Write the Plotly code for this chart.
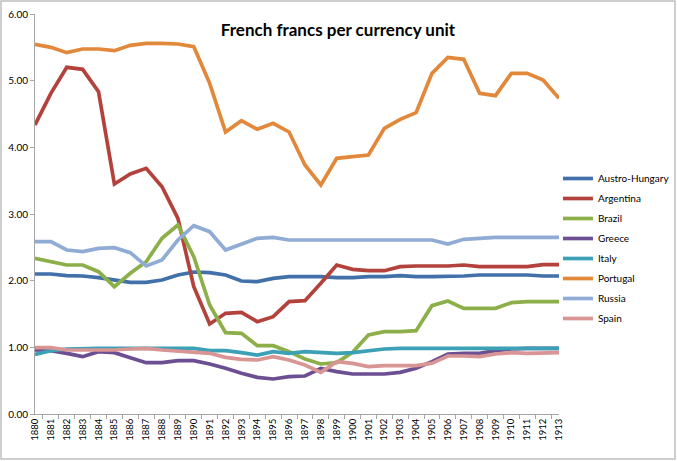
import plotly.graph_objects as go

years = [str(y) for y in range(1880, 1914)]

austro_hungary = [2.10, 2.10, 2.075, 2.07, 2.045, 2.01, 1.975, 1.975, 2.01, 2.085, 2.13, 2.12, 2.085,
                  1.995, 1.985, 2.035, 2.06, 2.06, 2.06, 2.045, 2.045, 2.06, 2.06, 2.075, 2.06, 2.06,
                  2.06, 2.07, 2.085, 2.085, 2.085, 2.085, 2.07, 2.07]
argentina = [4.335, 4.81, 5.20, 5.17, 4.835, 3.45, 3.60, 3.685, 3.41, 2.935, 1.91, 1.35, 1.51,
             1.525, 1.385, 1.46, 1.685, 1.70, 1.96, 2.235, 2.17, 2.15, 2.15, 2.21, 2.22, 2.22,
             2.22, 2.235, 2.21, 2.21, 2.21, 2.21, 2.24, 2.24]
brazil = [2.335, 2.285, 2.235, 2.235, 2.135, 1.91, 2.11, 2.285, 2.635, 2.835, 2.36, 1.635, 1.22,
          1.21, 1.025, 1.025, 0.935, 0.825, 0.75, 0.77, 0.925, 1.185, 1.235, 1.235, 1.25, 1.625,
          1.695, 1.585, 1.585, 1.585, 1.67, 1.685, 1.685, 1.685]
greece = [0.96, 0.95, 0.91, 0.86, 0.935, 0.92, 0.845, 0.77, 0.77, 0.80, 0.80, 0.75, 0.685,
          0.61, 0.55, 0.525, 0.56, 0.57, 0.685, 0.635, 0.60, 0.60, 0.60, 0.625, 0.685, 0.785,
          0.90, 0.91, 0.91, 0.95, 0.975, 0.985, 0.985, 0.985]
italy = [0.895, 0.95, 0.975, 0.985, 0.985, 0.985, 0.985, 0.985, 0.985, 0.985, 0.985, 0.95, 0.95,
         0.92, 0.885, 0.935, 0.91, 0.935, 0.92, 0.91, 0.92, 0.95, 0.975, 0.985, 0.985, 0.985,
         0.985, 0.985, 0.985, 0.985, 0.985, 0.985, 0.985, 0.985]
portugal = [5.545, 5.50, 5.42, 5.475, 5.475, 5.45, 5.53, 5.56, 5.56, 5.55, 5.51, 4.96, 4.23,
            4.40, 4.27, 4.36, 4.23, 3.735, 3.435, 3.835, 3.86, 3.885, 4.285, 4.42, 4.52, 5.11,
            5.35, 5.32, 4.81, 4.775, 5.11, 5.11, 5.01, 4.735]
russia = [2.585, 2.585, 2.46, 2.435, 2.485, 2.495, 2.42, 2.22, 2.31, 2.61, 2.825, 2.735, 2.46,
          2.55, 2.635, 2.65, 2.61, 2.61, 2.61, 2.61, 2.61, 2.61, 2.61, 2.61, 2.61, 2.61,
          2.55, 2.62, 2.635, 2.65, 2.65, 2.65, 2.65, 2.65]
spain = [0.995, 0.995, 0.96, 0.96, 0.96, 0.96, 0.975, 0.985, 0.96, 0.945, 0.935, 0.91, 0.85,
         0.82, 0.81, 0.86, 0.81, 0.735, 0.625, 0.785, 0.76, 0.71, 0.725, 0.725, 0.725, 0.76,
         0.87, 0.87, 0.86, 0.90, 0.92, 0.91, 0.92, 0.92]

series = [
    ("Austro-Hungary", austro_hungary, "#4270A8"),
    ("Argentina", argentina, "#B3423D"),
    ("Brazil", brazil, "#8CAF4A"),
    ("Greece", greece, "#6C4F92"),
    ("Italy", italy, "#3CA0B6"),
    ("Portugal", portugal, "#E2883A"),
    ("Russia", russia, "#90ACD4"),
    ("Spain", spain, "#D89594"),
]

fig = go.Figure()
for name, vals, col in series:
    fig.add_trace(go.Scatter(x=years, y=vals, name=name, mode="lines", legendgroup=name,
                             line=dict(color=col, width=3.7)))

font_family = "Lato, Open Sans, sans-serif"
fig.update_layout(
    width=677, height=461,
    margin=dict(l=35, r=118, t=14, b=47, autoexpand=False),
    paper_bgcolor="white", plot_bgcolor="white",
    font=dict(family=font_family, size=10, color="#000000"),
    title=dict(text="<b>French francs per currency unit</b>", x=(338) / 677, xanchor="center",
               y=1 - 30 / 461, yanchor="middle", font=dict(size=17, family=font_family, color="#000")),
    showlegend=True,
    legend=dict(x=0.998, xanchor="left", y=0.625, yanchor="top", font=dict(size=10, family=font_family),
                itemwidth=30, tracegroupgap=1, bgcolor="rgba(0,0,0,0)"),
    xaxis=dict(type="category", showgrid=False, showline=True, linecolor="#A6A6A6", linewidth=1,
               ticks="outside", ticklen=4, tickcolor="#A6A6A6", tickson="boundaries",
               tickangle=-90, tickfont=dict(size=9.5), zeroline=False),
    yaxis=dict(range=[0, 6], dtick=1, tickformat=".2f", showgrid=False, showline=True,
               linecolor="#A6A6A6", linewidth=1, ticks="outside", ticklen=4, tickcolor="#A6A6A6",
               tickfont=dict(size=10), zeroline=False),
)

fig.add_shape(type="rect", xref="paper", yref="paper",
              x0=(1 - 35) / 524, x1=(675 - 35) / 524, y0=(414 - 459) / 400, y1=(414 - 1) / 400,
              line=dict(color="#BFBFBF", width=1.5), fillcolor="rgba(0,0,0,0)", layer="below")

fig.write_html("out.html", config={"displayModeBar": False},
               post_script="document.body.style.margin='0';document.body.style.overflow='hidden';")
